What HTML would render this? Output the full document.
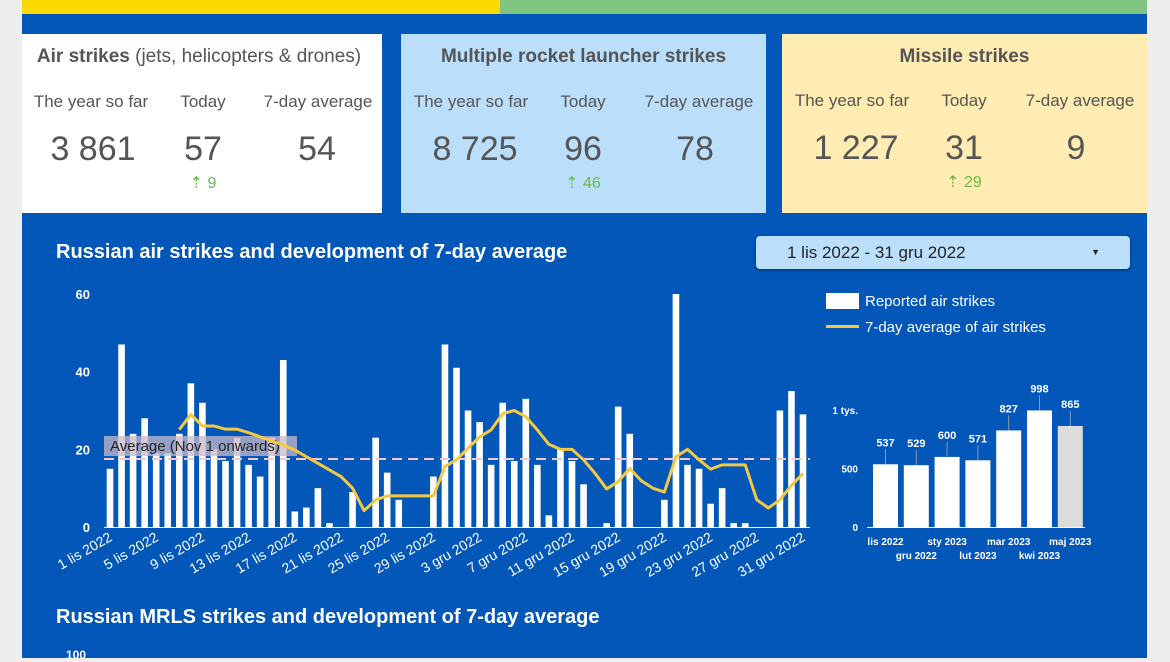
<!DOCTYPE html>
<html><head><meta charset="utf-8"><style>
body{margin:0;width:1170px;height:658px;overflow:hidden;background:#eeeeee;font-family:"Liberation Sans",sans-serif;position:relative}
.abs{position:absolute}
.card{position:absolute;top:34px;height:179px;color:#555}
.card .t{position:absolute;top:12px;left:0;right:0;text-align:center;font-size:19px}
.lbl{position:absolute;top:58px;font-size:17px;text-align:center;width:130px;color:#555}
.num{position:absolute;top:96px;font-size:34px;text-align:center;width:130px;color:#555}
.chg{position:absolute;top:139px;font-size:16px;text-align:center;width:130px;color:#66bb44}
</style></head><body>
<div class="abs" style="left:22px;top:0;width:1125px;height:658px;background:#0257b8"></div>
<div class="abs" style="left:22px;top:0;width:478px;height:14px;background:#ffd800"></div>
<div class="abs" style="left:500px;top:0;width:647px;height:14px;background:#7fc47f"></div>

<div class="card" style="left:22px;width:360px;background:#fff">
 <div class="t" style="left:-6px"><b>Air strikes</b> (jets, helicopters &amp; drones)</div>
 <div class="lbl" style="left:4px">The year so far</div>
 <div class="lbl" style="left:116px">Today</div>
 <div class="lbl" style="left:231px">7-day average</div>
 <div class="num" style="left:6px">3 861</div>
 <div class="num" style="left:116px">57</div>
 <div class="num" style="left:230px">54</div>
 <div class="chg" style="left:116px">⇡ 9</div>
</div>
<div class="card" style="left:401px;width:365px;background:#bbdefb">
 <div class="t" style="font-weight:bold">Multiple rocket launcher strikes</div>
 <div class="lbl" style="left:5px">The year so far</div>
 <div class="lbl" style="left:117px">Today</div>
 <div class="lbl" style="left:233px">7-day average</div>
 <div class="num" style="left:9px">8 725</div>
 <div class="num" style="left:117px">96</div>
 <div class="num" style="left:229px">78</div>
 <div class="chg" style="left:117px">⇡ 46</div>
</div>
<div class="card" style="left:782px;width:365px;background:#ffecb3">
 <div class="t" style="font-weight:bold">Missile strikes</div>
 <div class="lbl" style="left:5px;top:57px">The year so far</div>
 <div class="lbl" style="left:117px;top:57px">Today</div>
 <div class="lbl" style="left:233px;top:57px">7-day average</div>
 <div class="num" style="left:9px;top:95px">1 227</div>
 <div class="num" style="left:117px;top:95px">31</div>
 <div class="num" style="left:229px;top:95px">9</div>
 <div class="chg" style="left:117px;top:138px">⇡ 29</div>
</div>

<div class="abs" style="left:56px;top:241px;color:#fff;font-weight:bold;font-size:20px">Russian air strikes and development of 7-day average</div>
<div class="abs" style="left:756px;top:236px;width:374px;height:33px;background:#bbdefb;border-radius:4px;box-shadow:0 1px 3px rgba(0,0,0,.4);font-size:17px;color:#222;line-height:33px"><span style="margin-left:31px">1 lis 2022 - 31 gru 2022</span><span style="position:absolute;right:30px;font-size:9px">▼</span></div>
<div class="abs" style="left:826px;top:293px;color:#fff;font-size:15px"><span style="display:inline-block;width:33px;height:16px;background:#fff;vertical-align:-3px;margin-right:6px"></span>Reported air strikes</div>
<div class="abs" style="left:826px;top:319px;color:#fff;font-size:15px"><span style="display:inline-block;width:33px;height:3px;background:#f5c842;vertical-align:4px;margin-right:6px"></span>7-day average of air strikes</div>

<div class="abs" style="left:56px;top:606px;color:#fff;font-weight:bold;font-size:20px">Russian MRLS strikes and development of 7-day average</div>
<div class="abs" style="left:66px;top:648px;color:#fff;font-size:12px;font-weight:bold">100</div>

<svg id="c" class="abs" style="left:0;top:0" width="1170" height="658"></svg>
<script>
const days=[];for(let i=1;i<=30;i++)days.push(i+' lis 2022');for(let i=1;i<=31;i++)days.push(i+' gru 2022');
const strikes=[15,47,24,28,19,19,24,37,32,20,17,23,16,13,23,43,4,5,10,1,0,9,0,23,14,7,0,0,13,47,
41,30,27,16,32,17,33,16,3,20,17,11,0,1,31,24,0,0,7,60,16,15,6,10,1,1,0,0,30,35,29];
const avg7=[null,null,null,null,null,null,25.1,29,26,26,25.2,25.2,24.3,23.2,22.2,21.1,19.8,18.1,16.4,14.7,13,10,4.2,7,8,8,8,8,8,15.6,
17.3,20.3,23.2,25,29.2,30,28.4,25,21.3,20,20,17.3,13.8,9.8,11.7,15.1,11.9,10,9,18.1,20,17.3,14.9,16,16,16,7,4.9,7,10.7,13.8];
const overallAvg=17.5;
const yTicks=[0,20,40,60];
const months=['lis 2022','gru 2022','sty 2023','lut 2023','mar 2023','kwi 2023','maj 2023'];
const monthVals=[537,529,600,571,827,998,865];
const mTicks=[0,500,1000];const mTickLbl=['0','500','1 tys.'];
const svg=document.getElementById('c');const NS='http://www.w3.org/2000/svg';
function mk(t,a,p){const e=document.createElementNS(NS,t);for(const k in a)e.setAttribute(k,a[k]);(p||svg).appendChild(e);return e;}
const X=i=>110+i*(693/(days.length-1));const Y=v=>527-v*(233/60);
yTicks.forEach(t=>{const e=mk('text',{x:90,y:Y(t)+5,'text-anchor':'end',fill:'#fff','font-size':13,'font-weight':'bold'});e.textContent=t;

});
mk('line',{x1:104,x2:810,y1:527.5,y2:527.5,stroke:'#fff','stroke-width':1});
strikes.forEach((v,i)=>{const r=mk('rect',{x:X(i)-3.3,y:Y(v),width:6.6,height:527-Y(v),fill:'#fff'});

});
days.forEach((d,i)=>{if(i%4)return;const e=mk('text',{x:X(i)+3,y:540,'text-anchor':'end',fill:'#fff','font-size':14,transform:`rotate(-30 ${X(i)+3} 540)`});e.textContent=d;

});
const al=mk('line',{x1:104,x2:810,y1:Y(overallAvg),y2:Y(overallAvg),stroke:'#f0c8d0','stroke-width':2,'stroke-dasharray':'10 6'});


const lb=mk('rect',{x:104,y:Y(overallAvg)-23,width:193,height:20,fill:'#c8b8c8',opacity:0.75});
const lt=mk('text',{x:110,y:Y(overallAvg)-8,fill:'#222','font-size':15});lt.textContent='Average (Nov 1 onwards)';


let d='';avg7.forEach((v,i)=>{if(v==null)return;d+=(d?'L':'M')+X(i)+' '+Y(v);});
const ln=mk('path',{d:d,fill:'none',stroke:'#f5c842','stroke-width':3,'stroke-linejoin':'round'});


const MY=v=>527-v*0.1168;const MX=i=>873+i*30.8;
mTicks.forEach((t,k)=>{const e=mk('text',{x:858,y:MY(t)+4,'text-anchor':'end',fill:'#fff','font-size':10,'font-weight':'bold'});e.textContent=mTickLbl[k];

});
mk('line',{x1:867,x2:1085,y1:527.5,y2:527.5,stroke:'#fff'});
monthVals.forEach((v,i)=>{const x=MX(i);
const r=mk('rect',{x:x,y:MY(v),width:25,height:527-MY(v),fill:i==6?'#dcdcdc':'#fff'});


mk('line',{x1:x+12.5,x2:x+12.5,y1:MY(v),y2:MY(v)-15,stroke:'#8899bb'});
const t=mk('text',{x:x+12.5,y:MY(v)-18,'text-anchor':'middle',fill:'#fff','font-size':11,'font-weight':'bold'});t.textContent=v;


const m=mk('text',{x:x+12.5,y:i%2?559:545,'text-anchor':'middle',fill:'#fff','font-size':10,'font-weight':'bold'});m.textContent=months[i];

});
</script>
</body></html>
